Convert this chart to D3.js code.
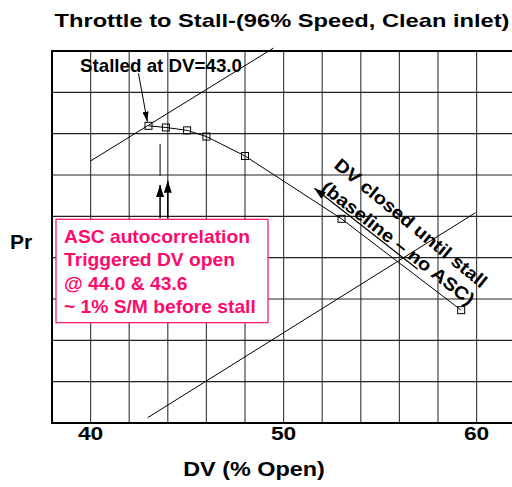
<!DOCTYPE html>
<html lang="en">
<head>
<meta charset="UTF-8">
<title>Throttle to Stall</title>
<script src="https://cdnjs.cloudflare.com/ajax/libs/d3/7.8.5/d3.min.js"></script>
<style>
  body { margin: 0; background: #fff; }
  text { font-family: "Liberation Sans", Arial, sans-serif; font-weight: bold; }
</style>
</head>
<body>
<div id="chart"></div>
<script>
// 資料點 (DV % open, Pr)
const dvOpen = [43.0, 43.9, 45.0, 46.0, 48.0, 53.0, 59.2];
const prVals = [7.19, 7.15, 7.08, 6.93, 6.46, 4.94, 2.73];
const xTicks = [40, 50, 60];
// 兩條直線的端點
const stallLine = [[40.0, 6.34], [49.47, 9.07]];
const operLine = [[42.96, 0.13], [59.95, 5.09]];
const boxLines = ['ASC autocorrelation', 'Triggered DV open', '@ 44.0 & 43.6', '~ 1% S/M before stall'];

const W = 512, H = 487;
const svg = d3.select('#chart').append('svg')
  .attr('width', W).attr('height', H);

const x = d3.scaleLinear().domain([38, 62]).range([52, 515.2]);
const y = d3.scaleLinear().domain([0, 9]).range([423, 51]);

// 箭頭
const defs = svg.append('defs');
defs.append('marker').attr('id', 'arr')
  .attr('viewBox', '0 0 12 8').attr('refX', 12).attr('refY', 4)
  .attr('markerWidth', 12).attr('markerHeight', 8)
  .attr('markerUnits', 'userSpaceOnUse').attr('orient', 'auto')
  .append('path').attr('d', 'M0,0 L12,4 L0,8 Z').attr('fill', '#000');
defs.append('marker').attr('id', 'arrS')
  .attr('viewBox', '0 0 10 6').attr('refX', 10).attr('refY', 3)
  .attr('markerWidth', 10).attr('markerHeight', 6)
  .attr('markerUnits', 'userSpaceOnUse').attr('orient', 'auto')
  .append('path').attr('d', 'M0,0 L10,3 L0,6 Z').attr('fill', '#000');

// 格線
svg.append('g')
  .selectAll('line.v').data(d3.range(40, 62, 2)).enter().append('line')
  .attr('x1', d => x(d)).attr('x2', d => x(d))
  .attr('y1', y(0)).attr('y2', y(9))
  .attr('stroke', '#444').attr('stroke-width', 1.2);
svg.append('g')
  .selectAll('line.h').data(d3.range(1, 9, 1)).enter().append('line')
  .attr('x1', x(38)).attr('x2', x(62))
  .attr('y1', d => y(d)).attr('y2', d => y(d))
  .attr('stroke', '#222').attr('stroke-width', 1.2);

// 外框
svg.append('rect')
  .attr('x', x(38)).attr('y', y(9))
  .attr('width', x(62) - x(38)).attr('height', y(0) - y(9))
  .attr('fill', 'none').attr('stroke', '#000').attr('stroke-width', 2);

// 文字 (原圖字體被橫向拉寬)
function label(px, py, str, size, sx, anchor, rot) {
  return svg.append('text')
    .attr('transform', `translate(${px},${py}) rotate(${rot || 0}) scale(${sx},1)`)
    .attr('text-anchor', anchor || 'middle')
    .attr('font-size', size)
    .text(str);
}
xTicks.forEach(t => label(x(t), 440, t, 19, 1.2));
label(254, 476, 'DV (% Open)', 19.5, 1.2);
label(282, 27, 'Throttle to Stall-(96% Speed, Clean inlet)', 18.5, 1.28);
label(10, 249, 'Pr', 21, 1.0, 'start');

// 直線
const lineGen = d3.line().x(d => x(d[0])).y(d => y(d[1]));
[stallLine, operLine].forEach(l => {
  svg.append('path').attr('d', lineGen(l))
    .attr('fill', 'none').attr('stroke', '#000').attr('stroke-width', 1);
});

// 資料線
const pts = dvOpen.map((d, i) => [d, prVals[i]]);
svg.append('path').attr('d', lineGen(pts))
  .attr('fill', 'none').attr('stroke', '#000').attr('stroke-width', 1);
svg.selectAll('rect.pt').data(pts).enter().append('rect')
  .attr('x', d => x(d[0]) - 3.5).attr('y', d => y(d[1]) - 3.5)
  .attr('width', 7).attr('height', 7)
  .attr('fill', 'none').attr('stroke', '#000').attr('stroke-width', 1);

// Stalled 標註
label(80, 71.7, 'Stalled at DV=43.0', 17.7, 1.06, 'start');
svg.append('line')
  .attr('x1', x(42.48)).attr('y1', y(8.46))
  .attr('x2', x(42.94)).attr('y2', y(7.29))
  .attr('stroke', '#000').attr('stroke-width', 1).attr('marker-end', 'url(#arrS)');

// 43.6 / 44.0 觸發
svg.append('line')
  .attr('x1', x(43.6)).attr('x2', x(43.6))
  .attr('y1', y(6.75)).attr('y2', y(5.98))
  .attr('stroke', '#000').attr('stroke-width', 1);
[[43.6, 5.76], [44.0, 5.86]].forEach(a => {
  svg.append('line')
    .attr('x1', x(a[0])).attr('x2', x(a[0]))
    .attr('y1', y(4.96)).attr('y2', y(a[1]))
    .attr('stroke', '#000').attr('stroke-width', 1.5).attr('marker-end', 'url(#arr)');
});

// 粉紅框
const pink = '#ff0a6c';
svg.append('rect')
  .attr('x', 56).attr('y', 219.3).attr('width', 212).attr('height', 103.4)
  .attr('fill', '#fff').attr('stroke', pink).attr('stroke-width', 1.2);
boxLines.forEach((s, i) => {
  label(64, 243 + i * 23.3, s, 18.5, 1.04, 'start').attr('fill', pink);
});

// 斜箭頭與文字
svg.append('line')
  .attr('x1', x(56.95)).attr('y1', y(3.72))
  .attr('x2', x(51.59)).attr('y2', y(5.68))
  .attr('stroke', '#000').attr('stroke-width', 1.2).attr('marker-end', 'url(#arr)');
label(333, 167, 'DV closed until stall', 18, 1.12, 'start', 39.5);
label(320, 190, '(baseline – no ASC)', 18, 1.12, 'start', 38);
</script>
</body>
</html>
